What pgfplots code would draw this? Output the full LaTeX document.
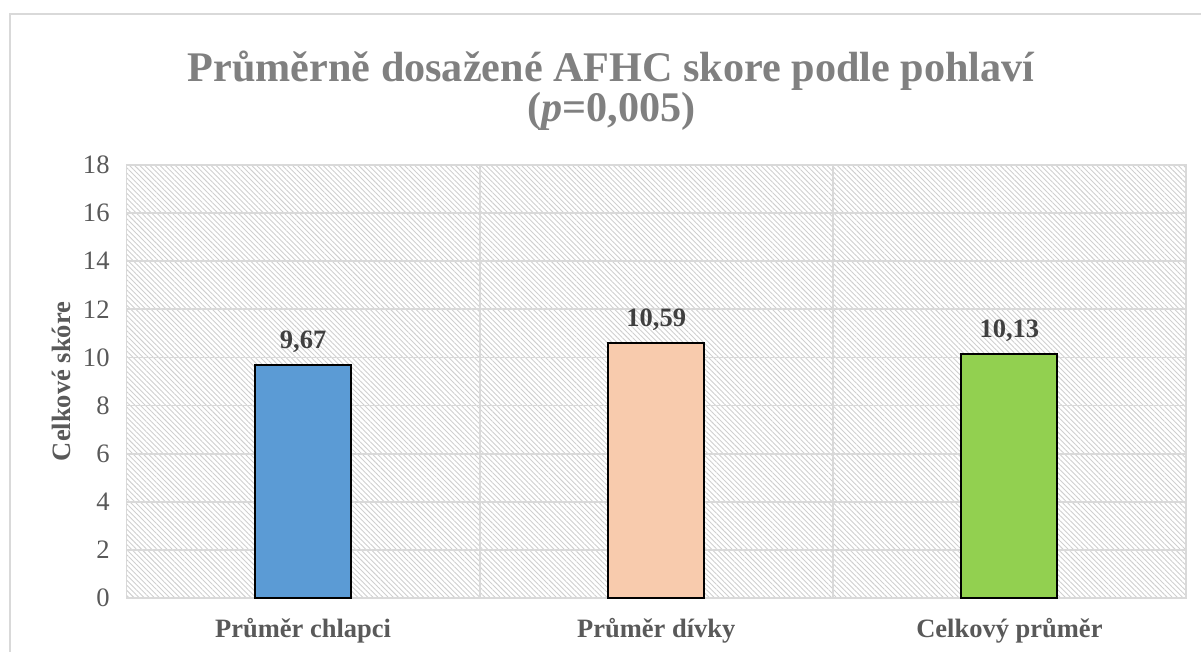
\documentclass[border=0pt]{standalone}
\usepackage{pgfplots}
\pgfplotsset{compat=1.18}
\usepackage{fontspec}
\setmainfont{Liberation Serif}
\usetikzlibrary{patterns.meta}
\definecolor{cblue}{HTML}{5B9BD5}
\definecolor{cpeach}{HTML}{F8CBAD}
\definecolor{cgreen}{HTML}{92D050}
\definecolor{gridc}{HTML}{D9D9D9}
\definecolor{hatchc}{HTML}{CFCFCF}
\definecolor{txtgray}{HTML}{595959}
\definecolor{valgray}{HTML}{404040}
\definecolor{titlegray}{HTML}{808080}
\begin{document}
\begin{tikzpicture}
\useasboundingbox (0,0) rectangle (600.5pt,326pt);
\draw[gridc, line width=1pt] (4.75pt,-5pt) -- (4.75pt,319pt) -- (605pt,319pt);
\node[anchor=base, text=titlegray, font=\fontsize{21.1}{25}\selectfont\bfseries] at (305.5pt,285pt) {Průměrně dosažené AFHC skore podle pohlaví};
\node[anchor=base, text=titlegray, font=\fontsize{21.1}{25}\selectfont\bfseries] at (305.75pt,265pt) {(\textit{p}=0,005)};
\begin{axis}[
  at={(63.25pt,27pt)}, anchor=south west,
  scale only axis,
  width=529.75pt, height=216.5pt,
  xmin=-0.5, xmax=2.5,
  ymin=0, ymax=18,
  ytick={0,2,...,18},
  xtick={0,1,2},
  xticklabels={Průměr chlapci, Průměr dívky, Celkový průměr},
  minor xtick={0.5,1.5},
  xminorgrids=true,
  ymajorgrids=true,
  major tick length=0pt, minor tick length=0pt,
  grid style={gridc, line width=0.9pt},
  minor grid style={gridc, line width=0.9pt},
  axis line style={gridc, line width=0.9pt},
  axis background/.style={pattern={Lines[angle=-45,distance=1.8pt,line width=0.45pt]}, pattern color=hatchc},
  /pgf/number format/assume math mode=true,
  yticklabel style={anchor=east, inner xsep=0pt, xshift=-8.25pt, text=txtgray, font=\fontsize{13.3}{16}\selectfont},
  xticklabel style={anchor=base, yshift=-20pt, text=txtgray, font=\fontsize{13.25}{16}\selectfont\bfseries},
  ylabel={Celkové skóre},
  ylabel style={at={(axis description cs:-0.0533,0.5)}, anchor=base, text=txtgray, font=\fontsize{13.25}{16}\selectfont\bfseries},
  ybar, bar width=48pt,
  nodes near coords={\pgfmathprintnumber[fixed, fixed zerofill, precision=2, use comma, assume math mode=true]{\pgfplotspointmeta}},
  every node near coord/.append style={anchor=base, yshift=8.25pt, text=valgray, font=\fontsize{13.25}{16}\selectfont\bfseries},
  clip=false,
]
\addplot[bar shift=0pt, fill=cblue, draw=black, line width=1pt] coordinates {(0,9.67)};
\addplot[bar shift=0pt, fill=cpeach, draw=black, line width=1pt] coordinates {(1,10.59)};
\addplot[bar shift=0pt, fill=cgreen, draw=black, line width=1pt] coordinates {(2,10.13)};
\end{axis}
\end{tikzpicture}
\end{document}
